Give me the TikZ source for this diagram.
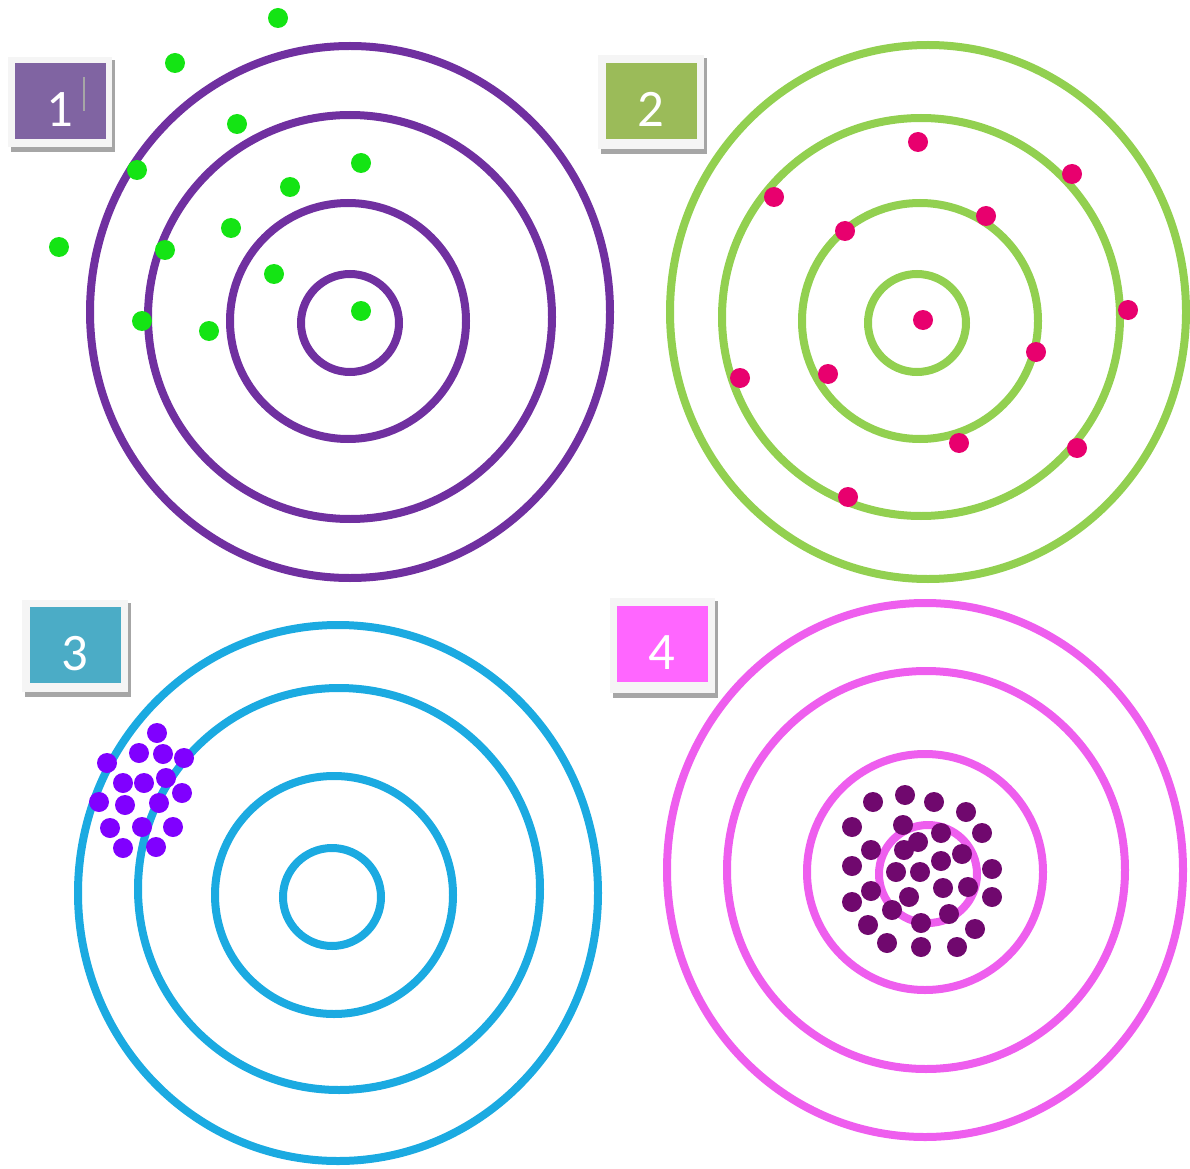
\documentclass[tikz,border=0pt]{standalone}
\usepackage{fontspec}
\setmainfont{Carlito}
\usepackage{xcolor}
\definecolor{tgtpurple}{RGB}{112, 48, 160}
\definecolor{tgtgreen}{RGB}{146, 208, 80}
\definecolor{tgtblue}{RGB}{27, 170, 225}
\definecolor{tgtpink}{RGB}{238, 94, 238}
\definecolor{dotgreen}{RGB}{20, 228, 20}
\definecolor{dotred}{RGB}{232, 0, 110}
\definecolor{dotviolet}{RGB}{128, 0, 255}
\definecolor{dotplum}{RGB}{112, 8, 110}
\definecolor{boxpurple}{RGB}{128, 100, 162}
\definecolor{boxgreen}{RGB}{155, 187, 89}
\definecolor{boxblue}{RGB}{75, 172, 198}
\definecolor{boxpink}{RGB}{255, 102, 255}
\usetikzlibrary{calc}

\tikzset{
  ring/.style={line width=0.16cm},
  shot/.style={radius=10},
  tag/.style={text=white, minimum width=91*0.02cm, minimum height=76*0.02cm,
    inner sep=0pt, text height=1.04cm, text depth=0pt,
    font=\fontsize{30}{34}\selectfont}
}

\begin{document}
\begin{tikzpicture}[x=0.02cm, y=-0.02cm]
\useasboundingbox (0, 0) rectangle (1190, 1169);

% === Diana 1 ===
\draw[ring, tgtpurple] (350, 312) circle [x radius=260, y radius=266];
\draw[ring, tgtpurple] (350, 317) circle [radius=202];
\draw[ring, tgtpurple] (348, 321) circle [radius=118];
\draw[ring, tgtpurple] (350, 323) circle [radius=49];
\foreach \p in {(278,18), (175,63), (237,124), (137,170), (361,163), (290,187),
    (231,228), (59,247), (165,250), (274,274), (142,321), (209,331), (361,311)}
  \fill[dotgreen] \p circle [shot];

% === Diana 2 ===
\draw[ring, tgtgreen] (928, 312) circle [x radius=258, y radius=267];
\draw[ring, tgtgreen] (921, 317) circle [radius=199];
\draw[ring, tgtgreen] (920, 321) circle [radius=118];
\draw[ring, tgtgreen] (917, 323) circle [radius=49];
\foreach \p in {(918,142), (1072,174), (774,197), (986,216), (845,231), (1128,310),
    (923,320), (1036,352), (740,378), (828,374), (959,443), (1077,448), (848,497)}
  \fill[dotred] \p circle [shot];

% === Diana 3 ===
\draw[ring, tgtblue] (338, 893) circle [x radius=260, y radius=268];
\draw[ring, tgtblue] (339, 889) circle [radius=201];
\draw[ring, tgtblue] (334, 895) circle [radius=119];
\draw[ring, tgtblue] (332, 897) circle [radius=49];
\foreach \p in {(157,733), (139,753), (163,754), (184,758), (107,763), (123,783),
    (144,783), (166,778), (182,793), (99,802), (125,805), (159,803), (110,828),
    (142,827), (173,827), (123,848), (156,847)}
  \fill[dotviolet] \p circle [shot];

% === Diana 4 ===
\draw[ring, tgtpink] (925, 870) circle [x radius=258, y radius=267];
\draw[ring, tgtpink] (926, 870) circle [radius=199];
\draw[ring, tgtpink] (925, 872) circle [radius=118];
\draw[ring, tgtpink] (928, 874) circle [radius=49];
\foreach \p in {(873,802), (905,795), (934,802), (966,812), (852,827), (903,825),
    (941,833), (982,833), (871,850), (904,850), (918,842), (962,854), (852,866),
    (896,872), (920,872), (941,861), (992,869), (871,891), (909,897), (943,888),
    (968,887), (992,897), (852,902), (892,910), (949,914), (868,925), (921,923),
    (975,929), (887,943), (921,947), (957,947)}
  \fill[dotplum] \p circle [shot];

% === Etiquetas ===
% marco con sombra
\fill[black!35] (11, 60) rectangle (115, 152);
\fill[gray!8] (8, 57) rectangle (112, 147);
\node[tag, fill=boxpurple] (lab1) at (60, 101) {1};
\draw[gray!70, line width=0.04cm] (84, 77) -- (84, 111);

\fill[black!35] (601, 58) rectangle (707, 154);
\fill[gray!8] (598, 55) rectangle (704, 149);
\node[tag, fill=boxgreen] (lab2) at (651, 101) {2};

\fill[black!35] (25, 603) rectangle (131, 697);
\fill[gray!8] (22, 600) rectangle (128, 692);
\node[tag, fill=boxblue] (lab3) at (75, 645) {3};

\fill[black!35] (613, 601) rectangle (718, 698);
\fill[gray!8] (610, 598) rectangle (715, 693);
\node[tag, fill=boxpink] (lab4) at (662, 644) {4};

\end{tikzpicture}
\end{document}
